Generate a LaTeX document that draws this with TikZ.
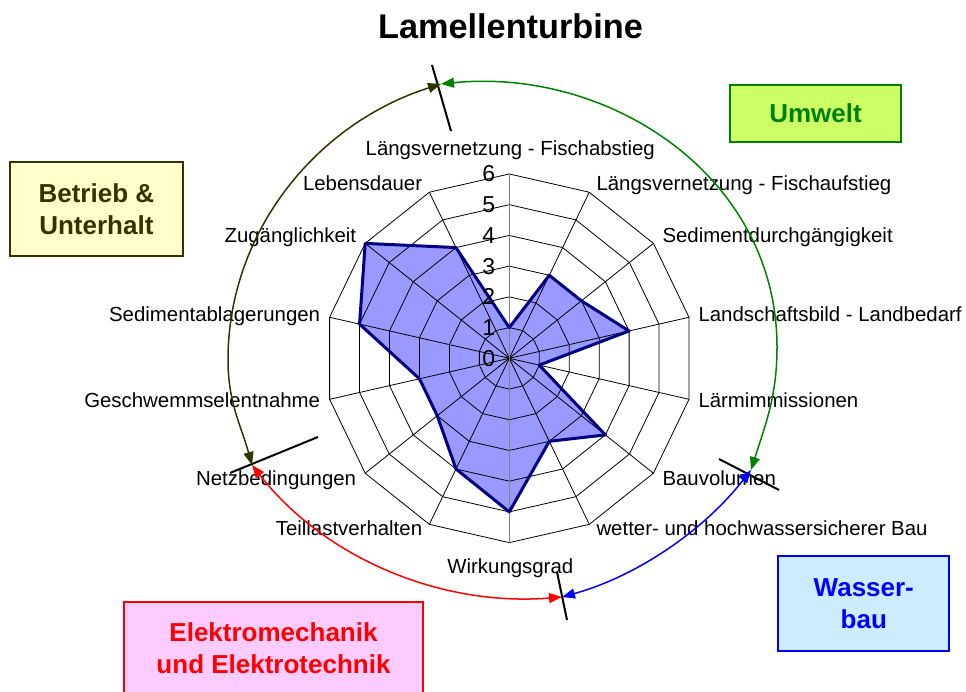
\documentclass[tikz,border=0pt]{standalone}
\usepackage{fontspec}
\setmainfont{Liberation Sans}
\usepackage{tikz}
\usetikzlibrary{arrows.meta}

\definecolor{seriesfill}{RGB}{153,153,255}
\definecolor{seriesline}{RGB}{0,0,128}
\definecolor{axisgray}{RGB}{128,128,128}
\definecolor{betriebline}{RGB}{51,51,0}
\definecolor{betriebfill}{RGB}{255,255,204}
\definecolor{umweltline}{RGB}{0,128,0}
\definecolor{umweltfill}{RGB}{204,255,102}
\definecolor{wasserline}{RGB}{0,0,255}
\definecolor{wasserfill}{RGB}{204,236,255}
\definecolor{elektroline}{RGB}{255,0,0}
\definecolor{elektrofill}{RGB}{255,204,255}

\def\rstep{30.72}

\tikzset{
	gridline/.style = {black, line width=0.8pt},
	catlab/.style = {inner sep=0pt, font=\fontsize{20.4}{24}\selectfont},
	numlab/.style = {inner sep=0pt, anchor=east, font=\fontsize{23}{27}\selectfont},
	groupbox/.style = {draw, line width=2pt, align=center, font=\bfseries\fontsize{26}{32}\selectfont},
	grouparrow/.style = {line width=1.5pt, {Triangle[length=13pt,width=10pt]}-{Triangle[length=13pt,width=10pt]}},
	cutmark/.style = {black, line width=2pt}
}

\begin{document}
\begin{tikzpicture}[x=1pt, y=1pt]
\useasboundingbox (0,0) rectangle (966,692);

\node[font=\bfseries\fontsize{34.3}{40}\selectfont, anchor=base] (title) at (510.5,653) {Lamellenturbine};

\begin{scope}[shift={(509.3,333.7)}]
\fill[seriesfill] (90:{1*\rstep}) \foreach \v [count=\k] in {3,3,4,1,4,3,5,4,3,3,5,6,4}{ -- ({90-\k*360/14}:{\v*\rstep})} -- cycle;

\foreach \r in {1,...,6}
	\draw[gridline] (90:{\r*\rstep}) \foreach \k in {1,...,13}{ -- ({90-\k*360/14}:{\r*\rstep})} -- cycle;
\foreach \k in {1,2,3,4,5,6,8,9,10,11,12,13}
	\draw[gridline] (0,0) -- ({90-\k*360/14}:{6*\rstep});
\draw[axisgray, line width=1pt] (0,{-6*\rstep}) -- (0,{6*\rstep});

\draw[seriesline, line width=3pt, line join=round] (90:{1*\rstep}) \foreach \v [count=\k] in {3,3,4,1,4,3,5,4,3,3,5,6,4}{ -- ({90-\k*360/14}:{\v*\rstep})} -- cycle;

\foreach \v in {0,...,6}
	\node[numlab] (val\v) at (-14,{\v*\rstep}) {\v};

\foreach \lab/\xx/\yy/\anc [count=\k] in {
	Längsvernetzung - Fischabstieg/1/205/mid,
	Längsvernetzung - Fischaufstieg/87/170/mid west,
	Sedimentdurchgängigkeit/153/118/mid west,
	Landschaftsbild - Landbedarf/189/39/mid west,
	Lärmimmissionen/189/-47/mid west,
	Bauvolumen/153/-125/mid west,
	wetter- und hochwassersicherer Bau/87/-175/mid west,
	Wirkungsgrad/1/-213/mid,
	Teillastverhalten/-87/-175/mid east,
	Netzbedingungen/-153/-125/mid east,
	Geschwemmselentnahme/-189/-47/mid east,
	Sedimentablagerungen/-189/39/mid east,
	Zugänglichkeit/-153/118/mid east,
	Lebensdauer/-87/170/mid east}
	\node[catlab, anchor=\anc] (cat\k) at (\xx,\yy) {\lab};
\end{scope}

% group borders
\coordinate (T) at (441,608);
\coordinate (R) at (751,222);
\coordinate (W) at (562,95);
\coordinate (N) at (252,227);
\coordinate (leftmost) at (228,332);
\coordinate (rightmost) at (777,345);

\draw[cutmark] (432,627) -- (451,561);
\draw[cutmark] (719,233) -- (779,202);
\draw[cutmark] (557,120) -- (567,72);
\draw[cutmark] (230,219) -- (318,255);

\draw[grouparrow, betriebline] (N) to[out=105.6, in=-90] (leftmost) to[out=90, in=197.6, looseness=0.95] (T);
\draw[grouparrow, umweltline] (T) to[out=5.7, in=90, looseness=1.02] (rightmost) to[out=-90, in=72.4] (R);
\draw[grouparrow, wasserline] (R) to[out=232, in=15.5, looseness=0.87] (W);
\draw[grouparrow, elektroline] (W) to[out=184.7, in=-52, looseness=0.91] (N);

\node[groupbox, draw=umweltline, fill=umweltfill, text=umweltline, minimum width=171pt, minimum height=57pt] (umwelt) at (815.5,578.6) {Umwelt};
\node[groupbox, draw=betriebline, fill=betriebfill, text=betriebline, minimum width=173pt, minimum height=94pt] (betrieb) at (96.4,483.2) {Betrieb \&\\Unterhalt};
\node[groupbox, draw=wasserline, fill=wasserfill, text=wasserline, minimum width=171pt, minimum height=95pt] (wasser) at (863.8,88.5) {Wasser-\\bau};
\node[groupbox, draw=elektroline, fill=elektrofill, text=elektroline, minimum width=299pt, minimum height=92pt] (elektro) at (273.5,44) {Elektromechanik\\und Elektrotechnik};
\end{tikzpicture}
\end{document}
